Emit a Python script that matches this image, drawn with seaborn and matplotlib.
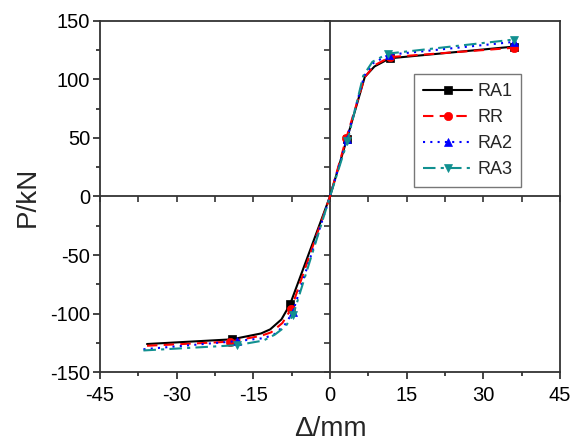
import matplotlib
matplotlib.use("Agg")
import matplotlib.pyplot as plt
import seaborn as sns
import numpy as np
import pandas as pd
from matplotlib.ticker import MultipleLocator, NullFormatter

# ---- data ----
ra1_x = [-35.8, -19.2, -13.5, -11.7, -9.5, -7.8, 0, 3.3, 6.8, 8.7, 11.7, 36]
ra1_y = [-126, -122, -117, -113.5, -105, -92, 0, 49, 102, 111, 118, 128]
ra1_mk = [1, 5, 7, 10, 11]

rr_x = [-35.8, -19.6, -13.5, -11.5, -9.3, -7.6, 0, 3.2, 6.8, 8.7, 11.7, 36]
rr_y = [-127.5, -124, -119, -116, -108, -96, 0, 50, 102, 112, 119, 127]
rr_mk = [1, 5, 7, 10, 11]

ra2_x = [-36.5, -18.2, -13.0, -11.0, -8.9, -7.3, 0, 3.3, 6.7, 8.5, 11.5, 36]
ra2_y = [-130.5, -123.5, -121, -118, -110, -99, 0, 49, 103, 114, 121, 132]
ra2_mk = [1, 5, 7, 10, 11]

ra3_x = [-36.5, -18.2, -13.0, -10.8, -8.7, -7.2, 0, 3.4, 6.5, 8.3, 11.3, 36]
ra3_y = [-131.5, -127, -123, -118, -111, -101, 0, 47, 103, 115, 122, 134]
ra3_mk = [1, 5, 7, 10, 11]

names = ["RA1", "RR", "RA2", "RA3"]
colors = ["#000000", "#ff0000", "#0000ff", "#119090"]
styles = ["-", (0, (5, 3)), (0, (1, 2.5)), (0, (6, 2.5, 1.5, 2.5))]
markers = ["s", "o", "^", "v"]

series = [(ra1_x, ra1_y, ra1_mk), (rr_x, rr_y, rr_mk), (ra2_x, ra2_y, ra2_mk), (ra3_x, ra3_y, ra3_mk)]

x_ticks = [-45, -30, -15, 0, 15, 30, 45]
y_ticks = [-150, -100, -50, 0, 50, 100, 150]

sns.set_style("white")
plt.rcParams['font.family'] = ['Liberation Sans', 'DejaVu Sans']
plt.rcParams['axes.unicode_minus'] = False

fig = plt.figure(figsize=(5.73, 4.43), dpi=100)
ax = fig.add_axes([0.1745, 0.160, 0.8028, 0.793])

for (xs, ys, mk), n, c, ls, m in zip(series, names, colors, styles, markers):
    df = pd.DataFrame({"x": xs, "y": ys})
    sns.lineplot(data=df, x="x", y="y", ax=ax, color=c, linestyle=ls, linewidth=1.5,
                 marker=m, markersize=6, markevery=mk, markeredgewidth=0.5,
                 markeredgecolor=c, estimator=None, sort=False, label=n)

ax.set_xlim(-45, 45)
ax.set_ylim(-150, 150)
ax.set_xticks(x_ticks)
ax.set_yticks(y_ticks)
ax.xaxis.set_minor_locator(MultipleLocator(7.5))
ax.yaxis.set_minor_locator(MultipleLocator(25))
ax.tick_params(axis="both", which="major", direction="out", length=5, width=1.2,
               labelsize=14.5, bottom=True, left=True, colors="#222222",
               labelcolor="black", pad=2)
ax.tick_params(axis="x", which="major", pad=5)
ax.tick_params(axis="both", which="minor", direction="out", length=3, width=1.2,
               bottom=True, left=True, colors="#222222")
for s in ax.spines.values():
    s.set_linewidth(1.3)
    s.set_color("#333333")

ax.set_xlabel("\u0394/mm", fontsize=20, labelpad=8)
ax.set_ylabel("P/kN", fontsize=20, labelpad=7)

# centre crosshair axes with ticks (independent axes with the same limits)
ax2 = fig.add_axes(ax.get_position())
ax2.set_xlim(-45, 45)
ax2.set_ylim(-150, 150)
ax2.patch.set_visible(False)
for side in ["top", "right"]:
    ax2.spines[side].set_visible(False)
ax2.spines["left"].set_position(("data", 0))
ax2.spines["bottom"].set_position(("data", 0))
for s in ["left", "bottom"]:
    ax2.spines[s].set_visible(True)
    ax2.spines[s].set_linewidth(1.3)
    ax2.spines[s].set_color("#333333")
ax2.xaxis.set_major_locator(MultipleLocator(7.5))
ax2.yaxis.set_major_locator(MultipleLocator(25))
ax2.xaxis.set_major_formatter(NullFormatter())
ax2.yaxis.set_major_formatter(NullFormatter())
ax2.tick_params(axis="both", which="major", direction="out", length=4, width=1.2,
                colors="#333333", bottom=True, left=True, labelbottom=False, labelleft=False)
ax2.set_zorder(ax.get_zorder() - 1)

leg = ax.legend(loc="upper left", bbox_to_anchor=(0.683, 0.849), fontsize=13,
                handlelength=2.7, frameon=True, fancybox=False, edgecolor="#555555",
                borderpad=0.5, labelspacing=0.5, handletextpad=0.3, borderaxespad=0)
leg.get_frame().set_linewidth(1.0)
ax.patch.set_visible(False)
fig.patch.set_facecolor("white")

fig.savefig("out.png", dpi=100)
